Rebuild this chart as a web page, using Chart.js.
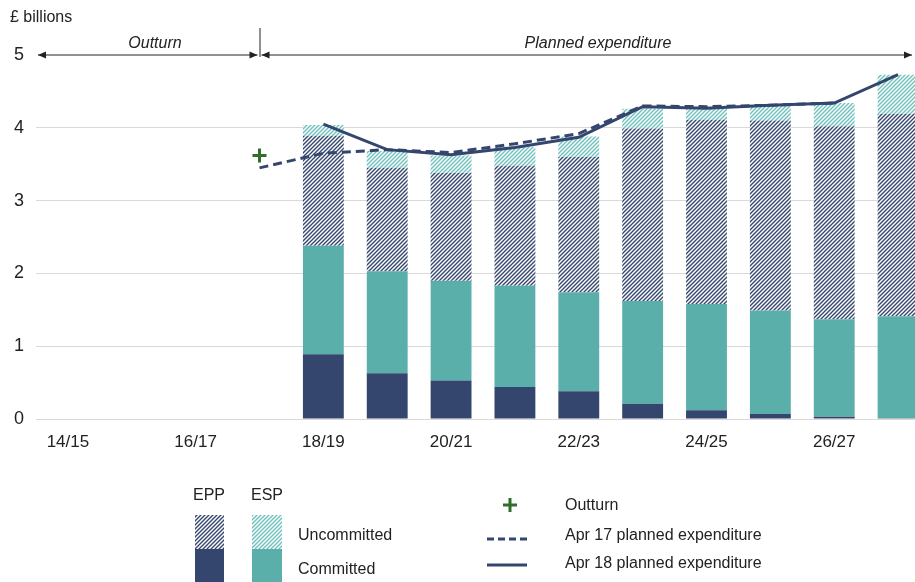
<!DOCTYPE html>
<html>
<head>
<meta charset="utf-8">
<script src="https://cdn.jsdelivr.net/npm/chart.js@4.4.1/dist/chart.umd.min.js"></script>
<style>
  html, body { margin: 0; padding: 0; background: #fff; overflow: hidden; }
</style>
</head>
<body>
<canvas id="myChart" width="940" height="582"></canvas>
<script>
const years = ["14/15", "15/16", "16/17", "17/18", "18/19", "19/20", "20/21",
  "21/22", "22/23", "23/24", "24/25", "25/26", "26/27", "27/28"];

// £ billions
const eppCommitted = [null, null, null, null, 0.89, 0.63, 0.53, 0.44, 0.38, 0.21, 0.12, 0.07, 0.03, 0.01];
const espCommitted = [null, null, null, null, 1.49, 1.40, 1.37, 1.39, 1.36, 1.41, 1.46, 1.42, 1.34, 1.40];
const eppUncommitted = [null, null, null, null, 1.51, 1.42, 1.48, 1.65, 1.86, 2.37, 2.53, 2.61, 2.65, 2.78];
const espUncommitted = [null, null, null, null, 0.15, 0.23, 0.24, 0.26, 0.28, 0.27, 0.18, 0.20, 0.32, 0.54];

const apr17Plan = [null, null, null, 3.45, 3.65, 3.70, 3.66, 3.78, 3.92, 4.30, 4.29, 4.31, 4.34, null];
const apr18Plan = [null, null, null, null, 4.05, 3.70, 3.63, 3.73, 3.87, 4.29, 4.27, 4.31, 4.34, 4.73];
const outturn = [null, null, null, 3.62, null, null, null, null, null, null, null, null, null, null];

const yTicks = [0, 1, 2, 3, 4, 5];

const NAVY = "#34466e";
const TEAL = "#5aafaa";
const GREEN = "#2f6f2a";
const FONT = "'Liberation Sans', Arial, sans-serif";

function hatch(color) {
  const s = 4;
  const c = document.createElement("canvas");
  c.width = s;
  c.height = s;
  const g = c.getContext("2d");
  g.fillStyle = "#fff";
  g.fillRect(0, 0, s, s);
  g.strokeStyle = color;
  g.lineWidth = 1.4;
  g.beginPath();
  g.moveTo(-1, s + 1);
  g.lineTo(s + 1, -1);
  g.moveTo(-1, 1);
  g.lineTo(1, -1);
  g.moveTo(s - 1, s + 1);
  g.lineTo(s + 1, s - 1);
  g.stroke();
  return g.createPattern(c, "repeat");
}

const navyHatch = hatch(NAVY);
const tealHatch = hatch("#6cc1bc");

// header arrows, labels and the legend under the chart
const decorations = {
  id: "decorations",
  afterDraw(chart) {
    const ctx = chart.ctx;
    const x = chart.scales.x;
    const y = chart.scales.y;
    const top = y.getPixelForValue(5);
    const split = x.getPixelForValue(3);

    ctx.save();
    ctx.strokeStyle = "#222";
    ctx.fillStyle = "#222";
    ctx.lineWidth = 1;

    function arrow(x1, x2, yy) {
      ctx.beginPath();
      ctx.moveTo(x1, yy);
      ctx.lineTo(x2, yy);
      ctx.stroke();
      [[x1, 1], [x2, -1]].forEach(([px, dir]) => {
        ctx.beginPath();
        ctx.moveTo(px, yy);
        ctx.lineTo(px + dir * 8, yy - 3.5);
        ctx.lineTo(px + dir * 8, yy + 3.5);
        ctx.closePath();
        ctx.fill();
      });
    }
    arrow(38, split - 2, top);
    arrow(split + 2, 912, top);
    ctx.beginPath();
    ctx.moveTo(split + 0.5, 28);
    ctx.lineTo(split + 0.5, top + 2);
    ctx.stroke();

    ctx.font = "italic 16px " + FONT;
    ctx.textAlign = "center";
    ctx.textBaseline = "middle";
    ctx.fillText("Outturn", 155, 44);
    ctx.fillText("Planned expenditure", 598, 44);

    ctx.font = "16px " + FONT;
    ctx.textAlign = "left";
    ctx.fillText("£ billions", 10, 18);

    // legend
    ctx.textAlign = "center";
    ctx.fillText("EPP", 209, 496);
    ctx.fillText("ESP", 267, 496);
    ctx.fillStyle = navyHatch;
    ctx.fillRect(195, 515, 29, 34);
    ctx.fillStyle = NAVY;
    ctx.fillRect(195, 549, 29, 33);
    ctx.fillStyle = tealHatch;
    ctx.fillRect(252, 515, 30, 34);
    ctx.fillStyle = TEAL;
    ctx.fillRect(252, 549, 30, 33);

    ctx.fillStyle = "#222";
    ctx.textAlign = "left";
    ctx.fillText("Uncommitted", 298, 536);
    ctx.fillText("Committed", 298, 570);
    ctx.fillText("Outturn", 565, 506);
    ctx.fillText("Apr 17 planned expenditure", 565, 536);
    ctx.fillText("Apr 18 planned expenditure", 565, 564);

    ctx.strokeStyle = GREEN;
    ctx.lineWidth = 3;
    ctx.beginPath();
    ctx.moveTo(503, 505);
    ctx.lineTo(517, 505);
    ctx.moveTo(510, 498);
    ctx.lineTo(510, 512);
    ctx.stroke();

    ctx.strokeStyle = NAVY;
    ctx.lineWidth = 3;
    ctx.setLineDash([7, 4]);
    ctx.beginPath();
    ctx.moveTo(487, 539);
    ctx.lineTo(527, 539);
    ctx.stroke();
    ctx.setLineDash([]);
    ctx.beginPath();
    ctx.moveTo(487, 565);
    ctx.lineTo(527, 565);
    ctx.stroke();
    ctx.restore();
  },
};

const barCommon = { stack: "bars", barPercentage: 0.64, categoryPercentage: 1, order: 2 };

const ctx = document.getElementById("myChart");
const myChart = new Chart(ctx, {
  data: {
    labels: years,
    datasets: [
      { type: "bar", label: "EPP committed", data: eppCommitted, backgroundColor: NAVY, ...barCommon },
      { type: "bar", label: "ESP committed", data: espCommitted, backgroundColor: TEAL, ...barCommon },
      { type: "bar", label: "EPP uncommitted", data: eppUncommitted, backgroundColor: navyHatch, ...barCommon },
      { type: "bar", label: "ESP uncommitted", data: espUncommitted, backgroundColor: tealHatch, ...barCommon },
      {
        type: "line", label: "Apr 17 planned expenditure", data: apr17Plan, stack: "l17", order: 1,
        borderColor: NAVY, borderWidth: 3, borderDash: [9, 5], pointRadius: 0, tension: 0,
      },
      {
        type: "line", label: "Apr 18 planned expenditure", data: apr18Plan, stack: "l18", order: 0,
        borderColor: NAVY, borderWidth: 3, pointRadius: 0, tension: 0,
      },
      {
        type: "line", label: "Outturn", data: outturn, stack: "out", order: 0, showLine: false,
        pointStyle: "cross", pointRadius: 7, pointBorderWidth: 3, borderColor: GREEN,
      },
    ],
  },
  options: {
    responsive: false,
    animation: false,
    events: [],
    layout: { padding: { top: 55, left: 0, right: 6, bottom: 0 } },
    plugins: {
      legend: { display: false },
      tooltip: { enabled: false },
    },
    scales: {
      x: {
        stacked: true,
        grid: { display: false, drawTicks: false },
        border: { display: false },
        afterFit(scale) { scale.height = 163; },
        ticks: {
          autoSkip: false,
          maxRotation: 0,
          padding: 13,
          color: "#222",
          font: { size: 17, family: FONT },
          callback: (v, i) => (i % 2 === 0 ? years[i] : ""),
        },
      },
      y: {
        stacked: true,
        min: 0,
        max: 5,
        afterFit(scale) { scale.width = 36; },
        afterBuildTicks(scale) { scale.ticks = yTicks.map((v) => ({ value: v })); },
        border: { display: false },
        grid: {
          drawTicks: false,
          color: (c) => (c.tick && c.tick.value === 5 ? "rgba(0,0,0,0)" : "#d9d9d9"),
        },
        ticks: {
          padding: 12,
          color: "#222",
          font: { size: 18, family: FONT },
        },
      },
    },
  },
  plugins: [decorations],
});
</script>
</body>
</html>
